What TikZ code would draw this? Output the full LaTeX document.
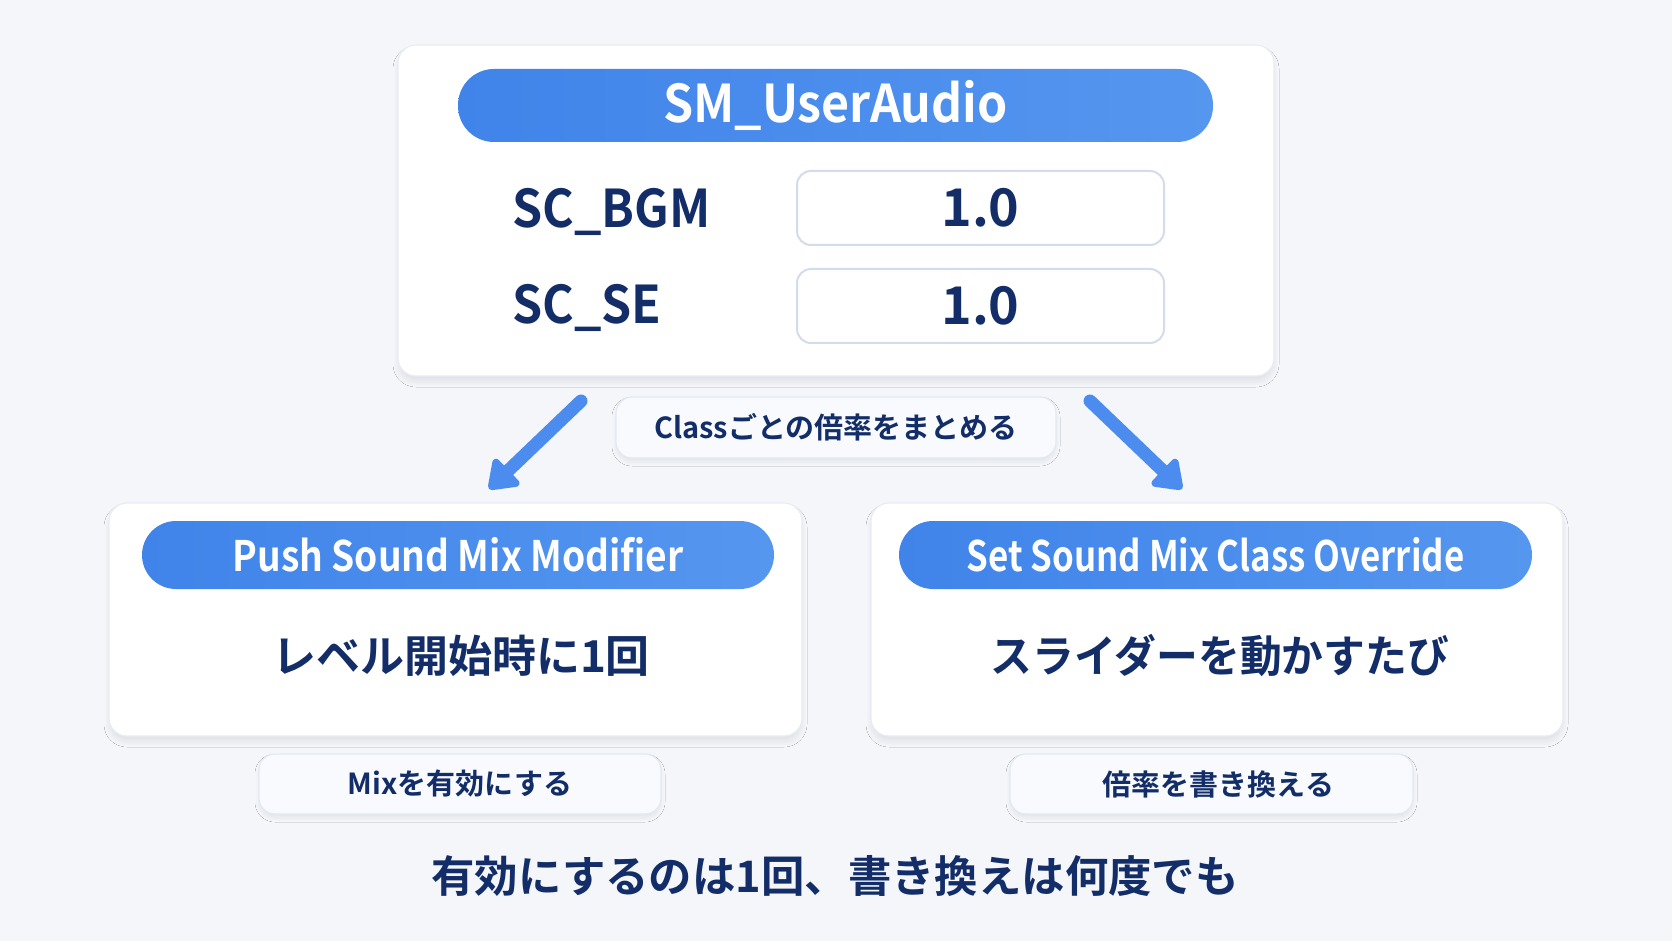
\documentclass[tikz,border=0pt]{standalone}
\usepackage{fontspec}
\setmainfont{Noto Sans CJK JP}[BoldFont={Noto Sans CJK JP Bold}]
\newfontfamily\keyfont{Noto Sans CJK JP Bold}[FakeStretch=0.93]
\newfontfamily\pushfont{Noto Sans CJK JP Bold}[FakeStretch=0.885]
\newfontfamily\overridefont{Noto Sans CJK JP Bold}[FakeStretch=0.83]
\newfontfamily\sliderfont{Noto Sans CJK JP Bold}[FakeStretch=0.95]
\usetikzlibrary{arrows.meta,shadows.blur}

\definecolor{bgc}{HTML}{F4F6FA}
\definecolor{navy}{HTML}{122D68}
\definecolor{pillL}{HTML}{4084EA}
\definecolor{pillR}{HTML}{5596EF}
\definecolor{cardline}{HTML}{E8ECF3}
\definecolor{boxline}{HTML}{D3DCEA}
\definecolor{tagfill}{HTML}{F8FAFE}
\definecolor{tagline}{HTML}{E4E9F1}
\definecolor{arrowc}{HTML}{4B8CEE}

\begin{document}
\begin{tikzpicture}[x=0.5pt,y=-0.5pt,
  card/.style={fill=white, draw=cardline, line width=0.6pt, rounded corners=9pt, inner sep=0pt,
    blur shadow={shadow xshift=0pt, shadow yshift=-3pt, shadow blur radius=2.5pt,
      shadow blur steps=12, shadow opacity=8}},
  pill/.style={left color=pillL, right color=pillR, draw=none, rounded corners=17pt, inner sep=0pt,
    text=white, font=\fontsize{21}{24}\selectfont},
  keytxt/.style={anchor=west, inner sep=0pt, text depth=0pt, text=navy, font=\keyfont\fontsize{26}{30}\selectfont},
  valbox/.style={fill=white, draw=boxline, line width=1pt, rounded corners=7pt, inner sep=0pt,
    minimum width=183.5pt, minimum height=37pt, text=navy, font=\bfseries\fontsize{26}{30}\selectfont},
  tag/.style={fill=tagfill, draw=tagline, line width=0.6pt, rounded corners=8pt, inner sep=0pt,
    text=navy, font=\bfseries\fontsize{14.5}{17}\selectfont,
    blur shadow={shadow xshift=0pt, shadow yshift=-2pt, shadow blur radius=2pt,
      shadow blur steps=10, shadow opacity=7}},
  body/.style={inner sep=0pt, text=navy, font=\bfseries\fontsize{22}{26}\selectfont},
  bigarrow/.style={draw=arrowc, line width=6.5pt, line cap=round,
    -{Triangle[length=15pt, width=20.5pt, round]}}
]
\fill[bgc] (0,0) rectangle (1672,941);
\useasboundingbox (0,0) rectangle (1672,941);

% top card
\node[card, minimum width=438pt, minimum height=165.5pt] (top) at (836,210.5) {};
\node[pill, minimum width=377.5pt, minimum height=36.5pt, rounded corners=18pt,
  font=\keyfont\fontsize{26}{30}\selectfont] (title) at (835.5,105.5) {SM\_UserAudio};
\node[keytxt] (bgm) at (512,208) {SC\_BGM};
\node[keytxt] (se) at (512,304) {SC\_SE};
\node[valbox] (bgmval) at (980.5,208) {1.0};
\node[valbox] (seval) at (980.5,306) {1.0};

% arrows + note
\coordinate (aL1) at (581,401);
\coordinate (aL2) at (489,489);
\coordinate (aR1) at (1090,401);
\coordinate (aR2) at (1182,489);
\draw[bigarrow] (aL1) -- (aL2);
\draw[bigarrow] (aR1) -- (aR2);
\node[tag, minimum width=220pt, minimum height=30.5pt] (note) at (836,427.5) {Classごとの倍率をまとめる};

% left card
\node[card, minimum width=346.5pt, minimum height=116.5pt] (push) at (455.5,619.5) {};
\node[pill, minimum width=316pt, minimum height=34pt] (pushhead) at (458,555) {\pushfont Push Sound Mix Modifier};
\node[body] (pushbody) at (461,656) {レベル開始時に1回};
\node[tag, minimum width=201pt, minimum height=30pt] (pushtag) at (460,784) {Mixを有効にする};

% right card
\node[card, minimum width=346pt, minimum height=116.5pt] (set) at (1217,619.5) {};
\node[pill, minimum width=316.5pt, minimum height=34pt] (sethead) at (1215.5,555) {\overridefont Set Sound Mix Class Override};
\node[body, font=\sliderfont\fontsize{22}{26}\selectfont] (setbody) at (1220,656) {スライダーを動かすたび};
\node[tag, minimum width=201.5pt, minimum height=30pt] (settag) at (1211.5,784) {\hspace{7pt}倍率を書き換える};

\node[body, font=\bfseries\fontsize{21.7}{26}\selectfont] (summary) at (835,876) {有効にするのは1回、書き換えは何度でも};
\end{tikzpicture}
\end{document}
